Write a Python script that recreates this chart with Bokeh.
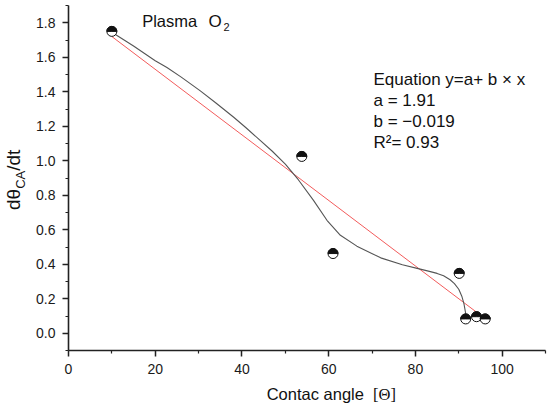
import numpy as np
from bokeh.plotting import figure
from bokeh.models import Label, FixedTicker, Range1d, PrintfTickFormatter, Div
from bokeh.layouts import row, column
from bokeh.embed import file_html
from bokeh.resources import INLINE

# ---- data ----
angle = [10.0, 53.8, 61.0, 90.1, 91.6, 94.1, 96.1]
rate = [1.75, 1.025, 0.462, 0.347, 0.083, 0.096, 0.083]

# smooth (spline-like) gray curve
curve_x = [10, 15, 20, 22.7, 26, 30.4, 34, 38.1, 41, 44.2, 47, 50, 53, 56.5,
           59.6, 62.7, 66.5, 72, 77, 80.4, 83, 85, 86.5, 88, 89, 90, 90.7,
           91.2, 91.7]
curve_y = [1.745, 1.665, 1.58, 1.541, 1.485, 1.405, 1.335, 1.252, 1.19, 1.118,
           1.055, 0.98, 0.89, 0.77, 0.655, 0.568, 0.505, 0.437, 0.397, 0.376,
           0.36, 0.347, 0.333, 0.31, 0.288, 0.255, 0.215, 0.17, 0.10]

# linear fit stated on the chart
fit_a = 1.91
fit_b = -0.019
fit_x = [10, 96]

x_ticks = [0, 20, 40, 60, 80, 100]
x_minor = [10, 30, 50, 70, 90, 110]
y_ticks = [0.0, 0.2, 0.4, 0.6, 0.8, 1.0, 1.2, 1.4, 1.6, 1.8]
y_minor = [-0.1, 0.1, 0.3, 0.5, 0.7, 0.9, 1.1, 1.3, 1.5, 1.7, 1.9]

x_title = "Contac angle"
x_unit = "[\u0398]"
y_title_main = "d\u03b8"
y_title_sub = "CA"
y_title_end = "/dt"

X_MIN, X_MAX = 0, 110
Y_MIN, Y_MAX = -0.1, 1.9

FONT = "Liberation Sans"
INK = "#111111"

LEFT_W = 30  # width of the y-title strip

p = figure(width=520, height=380, output_backend="svg", toolbar_location=None,
           x_range=Range1d(X_MIN, X_MAX), y_range=Range1d(Y_MIN, Y_MAX),
           min_border_left=38, min_border_right=5, min_border_top=5,
           min_border_bottom=30)
p.outline_line_color = None
p.grid.visible = False

p.xaxis.ticker = FixedTicker(ticks=x_ticks, minor_ticks=x_minor)
p.yaxis.ticker = FixedTicker(ticks=y_ticks, minor_ticks=y_minor)
p.yaxis.formatter = PrintfTickFormatter(format="%.1f")
for ax in (p.xaxis, p.yaxis):
    ax.axis_line_width = 1.6
    ax.axis_line_color = "#222222"
    ax.major_tick_line_width = 1.5
    ax.major_tick_line_color = "#222222"
    ax.minor_tick_line_width = 1.2
    ax.minor_tick_line_color = "#222222"
    ax.major_tick_out = 6
    ax.major_tick_in = 0
    ax.minor_tick_out = 3
    ax.minor_tick_in = 0
    ax.major_label_text_font = FONT
    ax.major_label_text_font_size = "14px"
    ax.major_label_text_color = "#1a1a1a"
    ax.major_label_standoff = 7

# page-pixel helpers for annotation placement
FL, FR, FT, FB = 68, 545, 5, 350


def sx2x(sx):
    return X_MIN + (sx - FL) / (FR - FL) * (X_MAX - X_MIN)


def sy2y(sy):
    return Y_MAX - (sy - FT) / (FB - FT) * (Y_MAX - Y_MIN)


fit_y = [fit_a + fit_b * v for v in fit_x]
p.line(fit_x, fit_y, line_color="#f04848", line_width=0.9)
p.line(curve_x, curve_y, line_color="#555555", line_width=1.1)

p.scatter(angle, rate, marker="circle", size=10, fill_color="white",
          line_color=INK, line_width=1)
p.wedge(x=angle, y=rate, radius=5, radius_units="screen", start_angle=0,
        end_angle=np.pi, fill_color=INK, line_color=INK, line_width=1)


def add_label(text, sx, sy, size, font=FONT):
    p.add_layout(Label(x=sx2x(sx), y=sy2y(sy), text=text, text_font=font,
                       text_font_size=size, text_color=INK,
                       text_align="left", text_baseline="alphabetic"))


add_label("Plasma", 141.7, 20.7, "16.5px")
add_label("O", 208, 20.7, "17px")
add_label("2", 223, 26, "11px")

add_label("Equation y=a+ b \u00d7 x", 373, 79.3, "17px")
add_label("a = 1.91", 373, 99.5, "17px")
add_label("b = \u22120.019", 373, 120.5, "17px")
add_label("R\u00b2= 0.93", 373, 141.7, "17px")

# y-axis title (rotated, with subscript) as real HTML text
ydiv_html = (
    f'<div style="position:relative;width:{LEFT_W}px;height:380px;">'
    '<div style="position:absolute;left:4px;top:210px;transform:rotate(-90deg);'
    "transform-origin:0 0;white-space:nowrap;font-family:'Liberation Sans';"
    f'font-size:19px;line-height:19px;color:{INK};">'
    f'{y_title_main}<span style="font-size:13px;vertical-align:-5px;'
    f'line-height:0;">{y_title_sub}</span>{y_title_end}</div></div>'
)
ydiv = Div(text=ydiv_html, width=LEFT_W, height=380, margin=0)

# x-axis title as real HTML text
xdiv_html = (
    '<div style="position:relative;width:550px;height:27px;">'
    '<div style="position:absolute;left:266.7px;top:6px;white-space:nowrap;'
    "font-family:'Liberation Sans';font-size:16.5px;line-height:16.5px;"
    f'color:{INK};">{x_title}&nbsp; '
    f"<span style=\"font-family:'Liberation Serif';\">{x_unit}</span>"
    '</div></div>'
)
xdiv = Div(text=xdiv_html, width=550, height=27, margin=0)

layout = column(row(ydiv, p, spacing=0), xdiv, spacing=0)

open("out.html", "w").write(file_html(layout, INLINE))
